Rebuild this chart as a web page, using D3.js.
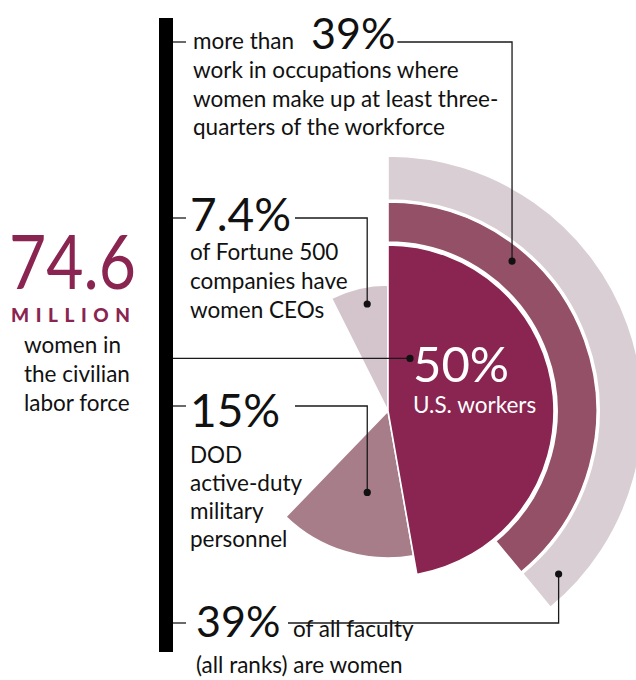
<!DOCTYPE html>
<html>
<head>
<meta charset="utf-8">
<script src="https://cdn.jsdelivr.net/npm/d3@7"></script>
<style>
  body { margin: 0; background: #fff; }
  svg text { font-family: Lato, "Open Sans", sans-serif; fill: #111; }
</style>
</head>
<body>
<svg width="636" height="680"></svg>
<script>
var ringNames = ["faculty", "occupations"];
var ringValues = [39, 39];
var wedgeNames = ["workers", "military", "ceos"];
var wedgeValues = [50, 15, 7.4];
var laborForce = 74.6;

var svg = d3.select("svg");
var cx = 388, cy = 411;
var angle = d3.scaleLinear().domain([0, 100]).range([0, 2 * Math.PI]);
var tilt = -10 * Math.PI / 180;   // lower wedges sit a little back from 6 o'clock

var colors = {
  faculty: "#d9ced3", occupations: "#935067", workers: "#8a2450",
  military: "#a67d89", ceos: "#d4c5cc"
};
var radii = {
  faculty: [211, 255], occupations: [169, 209], workers: [0, 166],
  military: [0, 147], ceos: [0, 126]
};

var pieces = [];
ringNames.forEach(function(n, i) {
  pieces.push({ name: n, start: 0, end: angle(ringValues[i]) });
});
var workersEnd = angle(wedgeValues[0]) + tilt;
pieces.push({ name: wedgeNames[2], start: 2 * Math.PI - angle(wedgeValues[2]), end: 2 * Math.PI });
pieces.push({ name: wedgeNames[1], start: workersEnd, end: workersEnd + angle(wedgeValues[1]) });
pieces.push({ name: wedgeNames[0], start: 0, end: workersEnd });

var arc = d3.arc()
  .innerRadius(function(d) { return radii[d.name][0]; })
  .outerRadius(function(d) { return radii[d.name][1]; })
  .startAngle(function(d) { return d.start; })
  .endAngle(function(d) { return d.end; });

var chart = svg.append("g").attr("transform", "translate(" + cx + "," + cy + ")");
chart.selectAll("path")
    .data(pieces)
    .enter()
  .append("path")
    .attr("d", arc)
    .style("fill", function(d) { return colors[d.name]; })
    .style("stroke", "#fff")
    .style("stroke-width", 1.6);

// polar helper for callout dots (degrees clockwise from 12 o'clock)
function polar(deg, r) {
  var a = deg * Math.PI / 180;
  return [cx + r * Math.sin(a), cy - r * Math.cos(a)];
}

// black spine on the left
svg.append("rect")
  .attr("x", 159).attr("y", 18)
  .attr("width", 14).attr("height", 634)
  .style("fill", "#000");

function label(x, y, str, size, extra) {
  var t = svg.append("text")
    .attr("x", x).attr("y", y)
    .style("font-size", size + "px")
    .text(str);
  if (extra) extra(t);
  return t;
}
var body = 22.5;
function lines(x, y, arr, step) {
  arr.forEach(function(s, i) { label(x, y + i * step, s, body); });
}
function leader(d) {
  svg.append("path")
    .attr("d", d)
    .style("fill", "none")
    .style("stroke", "#1a1a1a")
    .style("stroke-width", 1.3);
}
function dot(p) {
  svg.append("circle")
    .attr("cx", p[0]).attr("cy", p[1]).attr("r", 3.6)
    .style("fill", "#111");
}

// top: occupations
var occDot = polar(39.6, 194.6);
leader("M173,42H186");
label(193, 49, "more than", body);
var top39 = label(311, 49, ringValues[1] + "%", 43);
var topEnd = 311 + top39.node().getComputedTextLength() + 2;
leader("M" + topEnd + ",42H" + occDot[0] + "V" + occDot[1]);
dot(occDot);
lines(193, 78, ["work in occupations where",
                "women make up at least three-",
                "quarters of the workforce"], 28.5);

// CEOs
var ceoDot = polar(349, 109);
leader("M173,218H186");
label(190, 231, wedgeValues[2] + "%", 46);
leader("M295,218H" + ceoDot[0] + "V" + ceoDot[1]);
dot(ceoDot);
lines(190, 260, ["of Fortune 500", "companies have", "women CEOs"], 29);

// labor force
label(9, 289, String(laborForce), 76, function(t) {
  t.attr("textLength", 127).attr("lengthAdjust", "spacingAndGlyphs")
   .style("fill", "#8a2450");
});
label(11, 322, "MILLION", 19, function(t) {
  t.style("font-weight", 900).style("fill", "#8a2450")
   .attr("textLength", 119).attr("lengthAdjust", "spacing");
});
lines(24, 353, ["women in", "the civilian", "labor force"], 29);
var workDot = polar(22.7, 57);
leader("M173," + workDot[1] + "H" + workDot[0]);
dot(workDot);

// military
var milDot = polar(194.3, 84);
leader("M173,406H186");
label(190, 427, wedgeValues[1] + "%", 46);
leader("M295,406H" + milDot[0] + "V" + milDot[1]);
dot(milDot);
lines(190, 463, ["DOD", "active-duty", "military", "personnel"], 28);

// faculty
var facDot = polar(133.7, 236);
leader("M173,623H186");
label(196, 637, ringValues[0] + "%", 43);
label(293, 637, "of all faculty", body);
leader("M288,623H" + facDot[0] + "V" + facDot[1]);
dot(facDot);
label(196, 673, "(all ranks) are women", body);

// inside the big wedge
label(413, 382, wedgeValues[0] + "%", 49, function(t) { t.style("fill", "#fff"); });
label(413, 413, "U.S. workers", body, function(t) { t.style("fill", "#fff"); });
</script>
</body>
</html>
